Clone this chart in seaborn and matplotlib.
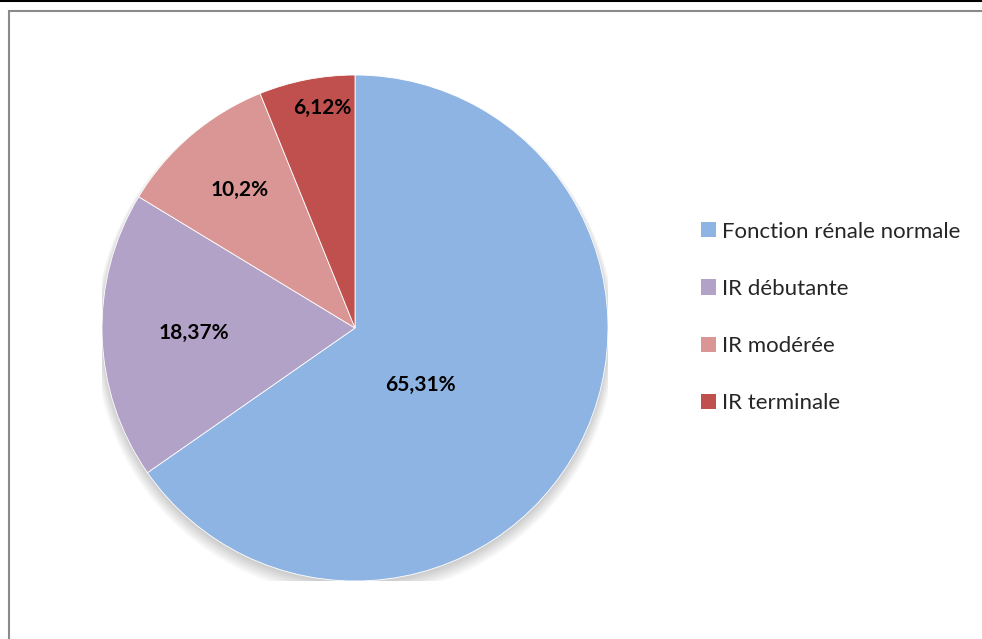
import matplotlib
matplotlib.use("Agg")
import matplotlib.pyplot as plt
import numpy as np
import seaborn as sns
from matplotlib.patches import Rectangle, Circle
from matplotlib.lines import Line2D

categories = ["Fonction rénale normale", "IR débutante", "IR modérée", "IR terminale"]
values = [65.31, 18.37, 10.2, 6.12]
value_labels = ["65,31%", "18,37%", "10,2%", "6,12%"]

# label placement (fraction of radius, angular shift from wedge middle in degrees)
label_dist = [0.342, 0.637, 0.71, 0.88]
label_shift = [-13.6, 0.0, -0.5, -2.5]

sns.set_theme(style="white")
plt.rcParams["font.family"] = ["Lato", "DejaVu Sans"]

palette = sns.color_palette(["#8EB4E3", "#B3A2C7", "#D99694", "#C0504D"])

W, H = 982, 639
fig = plt.figure(figsize=(W / 100, H / 100), dpi=100)

# pie centre / radius in pixels
cx, cy, r = 355, 328, 253
ax = fig.add_axes([(cx - r) / W, (H - cy - r) / H, 2 * r / W, 2 * r / H])

# soft shadow under the pie
for i in range(8):
    ax.add_patch(Circle((0, -0.012 - i * 0.003), 1.0 + i * 0.004, color="black",
                        alpha=0.025, lw=0, zorder=0))

wedges, _ = ax.pie(values, colors=palette, startangle=90, counterclock=False,
                   radius=1, wedgeprops=dict(linewidth=0.6, edgecolor="white"))
for w in wedges:
    w.set_zorder(2)

for w, lab, d, s in zip(wedges, value_labels, label_dist, label_shift):
    ang = np.deg2rad((w.theta1 + w.theta2) / 2 + s)
    ax.text(d * np.cos(ang), d * np.sin(ang), lab, ha="center", va="center",
            fontsize=15, fontweight="bold", color="black", zorder=3)

ax.set_xlim(-1, 1)
ax.set_ylim(-1, 1)
ax.set_aspect("equal")
ax.axis("off")

handles = [Rectangle((0, 0), 1, 1, facecolor=c, edgecolor="none") for c in palette]
fig.legend(handles, categories, loc="upper left", bbox_to_anchor=(692 / W, 1 - 212.7 / H),
           frameon=False, fontsize=16, handlelength=0.68, handleheight=0.68,
           handletextpad=0.27, labelspacing=1.675, borderaxespad=0)

# chart frame (left + top edges only) and top rule
fx, fy = 8.5 / W, 1 - 10.5 / H
fig.add_artist(Line2D([fx, fx, 1], [0, fy, fy], transform=fig.transFigure,
                      color="#8a8a8a", lw=1.5, solid_joinstyle="miter"))
fig.add_artist(Line2D([0, 1], [1 - 1 / H, 1 - 1 / H], transform=fig.transFigure,
                      color="black", lw=1.5))

fig.savefig("out.png", dpi=100)
